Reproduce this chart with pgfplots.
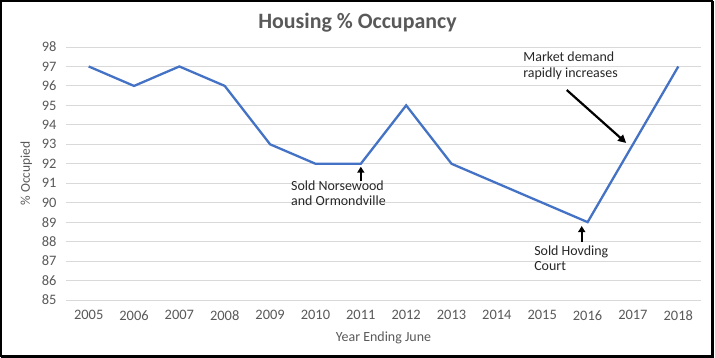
\documentclass[border=0pt]{standalone}
\usepackage{pgfplots}
\pgfplotsset{compat=1.18}
\usepackage{fontspec}
\setmainfont{Carlito}
\usetikzlibrary{arrows.meta}
\definecolor{linebl}{HTML}{4472C4}
\definecolor{gridc}{HTML}{D9D9D9}
\definecolor{tickc}{HTML}{595959}
\definecolor{annc}{HTML}{262626}
\begin{document}
\begin{tikzpicture}
\useasboundingbox (-66bp,-58bp) rectangle (649bp,300bp);
\begin{axis}[
  at={(0,0)}, anchor=origin,
  scale only axis,
  width=635bp, height=253bp,
  xmin=2004.5, xmax=2018.5,
  ymin=85, ymax=98,
  xtick={2005,...,2018},
  ytick={85,...,98},
  xticklabel style={/pgf/number format/1000 sep={}},
  /pgf/number format/assume math mode=true,
  ticklabel style={font=\fontsize{14.5}{16}\selectfont, text=tickc},
  xticklabel style={yshift=-7bp},
  yticklabel style={xshift=-6bp},
  major tick length=0pt,
  axis line style={draw=none},
  ymajorgrids,
  grid style={gridc, line width=0.9bp},
  clip=false,
  title={\fontsize{22}{25}\selectfont\bfseries Housing \% Occupancy},
  title style={text=tickc, at={(0.459,1)}, yshift=5bp},
  xlabel={Year Ending June},
  ylabel={\% Occupied},
  xlabel style={font=\fontsize{14}{16}\selectfont, text=tickc, yshift=-4bp},
  ylabel style={font=\fontsize{13.5}{16}\selectfont, text=tickc, yshift=3bp},
]
\addplot[linebl, line width=2.3bp] coordinates {
(2005,97) (2006,96) (2007,97) (2008,96) (2009,93) (2010,92) (2011,92)
(2012,95) (2013,92) (2014,91) (2015,90) (2016,89) (2017,93) (2018,97)};
\draw[line width=2bp, -{Triangle[width=7bp,length=6bp]}] (axis cs:2011,91.1) -- (axis cs:2011,91.85);
\draw[line width=2bp, -{Triangle[width=7bp,length=6bp]}] (axis cs:2015.87,87.98) -- (axis cs:2015.87,88.8);
\draw[line width=2.2bp, -{Triangle[width=8bp,length=8bp]}] (axis cs:2015.54,95.79) -- (axis cs:2016.85,93.07);
\node[anchor=north west, inner sep=0pt, align=left, text=annc, font=\fontsize{14}{15.5}\selectfont] at (axis cs:2009.46,91.15) {Sold Norsewood\\and Ormondville};
\node[anchor=north west, inner sep=0pt, align=left, text=annc, font=\fontsize{14}{15.5}\selectfont] at (axis cs:2014.82,87.8) {Sold Hovding\\Court};
\node[anchor=north west, inner sep=0pt, align=left, text=annc, font=\fontsize{14}{15.5}\selectfont] at (axis cs:2014.58,97.75) {Market demand\\rapidly increases};
\end{axis}
\draw[line width=1.5bp] (-65.2bp,-56.5bp) rectangle (646.5bp,299.2bp);
\draw[line width=2.5bp] (646.5bp,299.2bp) -- (646.5bp,-56.5bp) -- (-65.2bp,-56.5bp);
\end{tikzpicture}
\end{document}
